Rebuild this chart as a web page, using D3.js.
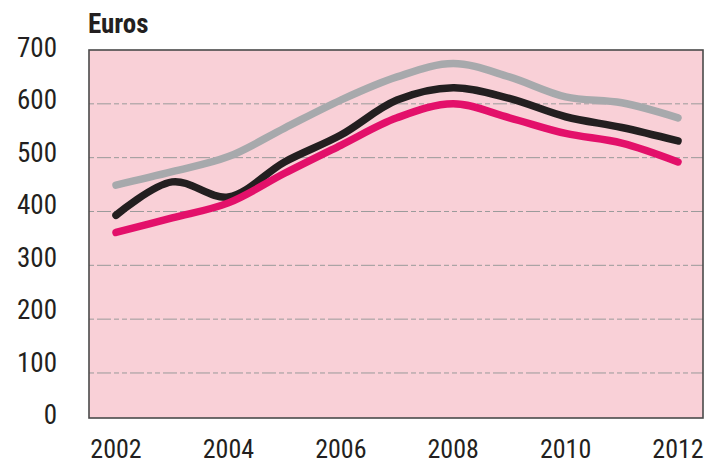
<!DOCTYPE html>
<html>
<head>
<meta charset="utf-8">
<script src="https://cdn.jsdelivr.net/npm/d3@7"></script>
<style>
  body { margin: 0; background: #fff; }
  text { font-family: "Liberation Sans Narrow", "Roboto Condensed", "Liberation Sans", sans-serif; fill: #231f20; }
</style>
</head>
<body>
<div class="chart"></div>
<script>
// Data
const years = [2002, 2003, 2004, 2005, 2006, 2007, 2008, 2009, 2010, 2011, 2012];
const greyValues  = [449, 474, 502, 555, 607, 650, 675, 650, 613, 602, 574];
const blackValues = [393, 455, 427, 492, 542, 607, 630, 610, 576, 556, 531];
const pinkValues  = [361, 388, 416, 471, 523, 574, 600, 574, 545, 527, 492];
const yTicks = [0, 100, 200, 300, 400, 500, 600, 700];
const xTicks = [2002, 2004, 2006, 2008, 2010, 2012];

const series = [
    {name: 'grey', values: greyValues, color: '#a7a9ac'},
    {name: 'black', values: blackValues, color: '#231f20'},
    {name: 'pink', values: pinkValues, color: '#e3106a'}
];

const svg_width = 708, svg_height = 464;
const frame = {left: 89, top: 50, right: 703, bottom: 418};

const svg = d3.select('.chart').append('svg')
    .attr('width', svg_width).attr('height', svg_height);

//scales
const xScale = d3.scaleLinear([2002, 2012], [116, 678]);
const yScale = d3.scaleLinear([0, 700], [426.8, 50]);
// tick labels sit a bit above their gridlines in the original
const yLabel = d3.scaleLinear([0, 700], [424, 57]);

//background panel
svg.append('rect')
    .attr('x', frame.left).attr('y', frame.top)
    .attr('width', frame.right - frame.left).attr('height', frame.bottom - frame.top)
    .style('fill', '#f9d0d7');

//gridlines
svg.append('g').selectAll('line').data(yTicks.filter(d => d > 0 && d < 700)).enter()
    .append('line')
    .attr('x1', frame.left).attr('x2', frame.right)
    .attr('y1', d => yScale(d)).attr('y2', d => yScale(d))
    .style('stroke', '#9a9a9a').style('stroke-width', 1)
    .style('stroke-dasharray', '5,3,14,3,5,3');

//lines
const line = d3.line()
    .x((d, i) => xScale(years[i]))
    .y(d => yScale(d))
    .curve(d3.curveCatmullRom.alpha(0.5));

svg.append('g').selectAll('path').data(series).enter()
    .append('path')
    .attr('d', d => line(d.values))
    .style('fill', 'none')
    .style('stroke', d => d.color)
    .style('stroke-width', 7.5)
    .style('stroke-linecap', 'round')
    .style('stroke-linejoin', 'round');

//frame
svg.append('rect')
    .attr('x', frame.left).attr('y', frame.top)
    .attr('width', frame.right - frame.left).attr('height', frame.bottom - frame.top)
    .style('fill', 'none').style('stroke', '#4a4a4a').style('stroke-width', 1.6);

//y labels
svg.append('g').selectAll('text').data(yTicks).enter()
    .append('text')
    .attr('x', 57).attr('y', d => yLabel(d))
    .attr('text-anchor', 'end')
    .style('font-size', '27px')
    .text(d => d);

//x labels
svg.append('g').selectAll('text').data(xTicks).enter()
    .append('text')
    .attr('x', d => xScale(d)).attr('y', 458)
    .attr('text-anchor', 'middle')
    .style('font-size', '26px')
    .text(d => d);

//unit header
svg.append('text')
    .attr('x', 88).attr('y', 33)
    .style('font-size', '27px').style('font-weight', 'bold')
    .text('Euros');
</script>
</body>
</html>
